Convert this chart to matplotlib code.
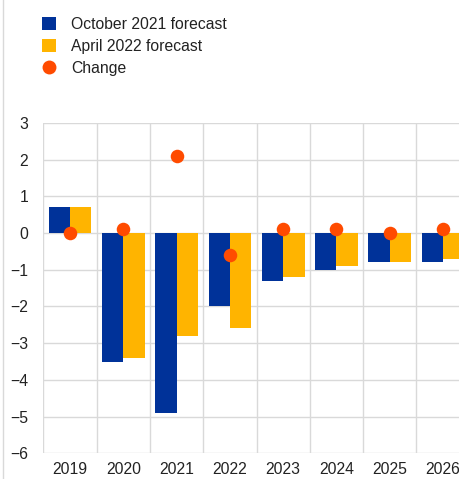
import matplotlib.pyplot as plt
import numpy as np
from matplotlib.lines import Line2D
from matplotlib.patches import Patch

plt.rcParams["font.family"] = ["Liberation Sans", "DejaVu Sans"]

years = ["2019", "2020", "2021", "2022", "2023", "2024", "2025", "2026"]
oct_2021 = [0.7, -3.5, -4.9, -2.0, -1.3, -1.0, -0.8, -0.8]
apr_2022 = [0.7, -3.4, -2.8, -2.6, -1.2, -0.9, -0.8, -0.7]
change = [0.0, 0.1, 2.1, -0.6, 0.1, 0.1, 0.0, 0.1]

_BLUE = "#003299"
_YELLOW = "#FFB400"
_ORANGE = "#FF4B00"
_GRID = "#d9d9d9"
_FS = 11.3

fig = plt.figure(figsize=(4.59, 4.79), dpi=100)
ax = fig.add_axes([0.0944, 0.0536, 0.929, 0.690])

x = np.arange(len(years))
w = 0.40
ax.bar(x - w / 2, oct_2021, width=w, color=_BLUE, zorder=2)
ax.bar(x + w / 2, apr_2022, width=w, color=_YELLOW, zorder=2)
ax.scatter(x, change, s=95, color=_ORANGE, zorder=3, linewidths=0)

ax.set_xlim(-0.5, len(years) - 0.5)
ax.set_ylim(-6, 3)
ax.set_yticks(range(-6, 4))
ax.set_xticks(x)
ax.set_xticklabels(years)

# category boundaries as vertical grid lines
for b in np.arange(-0.5, len(years), 1.0):
    ax.axvline(b, color=_GRID, linewidth=1, zorder=0)
for v in range(-6, 4):
    ax.axhline(v, color=_GRID, linewidth=1, zorder=0)

for s in ax.spines.values():
    s.set_visible(False)
ax.tick_params(axis="both", length=0, labelsize=_FS, colors="#222222")
ax.tick_params(axis="y", pad=11)
ax.tick_params(axis="x", pad=6)

# thin border on the left of the figure
fig.add_artist(Line2D([3 / 459, 3 / 459], [0, 1], color=_GRID, linewidth=1,
                      transform=fig.transFigure))

handles = [
    Patch(facecolor=_BLUE, edgecolor="none"),
    Patch(facecolor=_YELLOW, edgecolor="none"),
    Line2D([], [], marker="o", linestyle="none", markersize=10,
           markerfacecolor=_ORANGE, markeredgecolor="none"),
]
labels = ["October 2021 forecast", "April 2022 forecast", "Change"]
leg = fig.legend(handles, labels, loc="upper left",
                 bbox_to_anchor=(42.3 / 459, (479 - 17) / 479),
                 frameon=False, fontsize=_FS, handlelength=0.9, handleheight=0.9,
                 handletextpad=0.94, labelspacing=0.45, borderaxespad=0,
                 borderpad=0)
for t in leg.get_texts():
    t.set_color("#222222")

fig.savefig("out.png", dpi=100, facecolor="white")
